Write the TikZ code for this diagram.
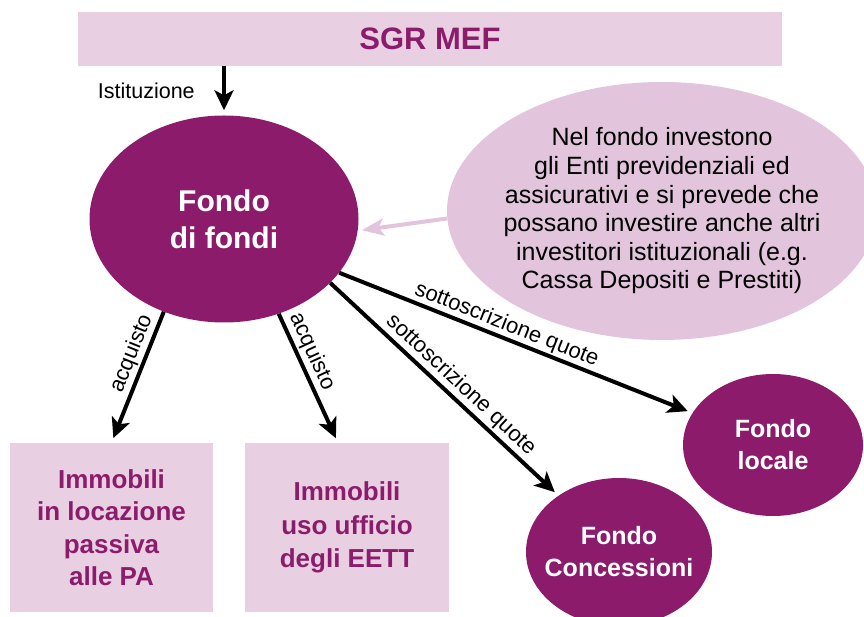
\documentclass[tikz,border=0pt]{standalone}
\usepackage{fontspec}
\setmainfont{Liberation Sans}
\usetikzlibrary{arrows.meta,shapes.geometric}
\definecolor{fondoviola}{HTML}{8C1B6B}
\definecolor{fondorosa}{HTML}{E8D0E2}
\definecolor{fondolilla}{HTML}{E2C5DC}
\tikzset{
  fondo/.style={ellipse, fill=fondoviola, text=white, inner sep=0pt, align=center},
  riquadro/.style={rectangle, fill=fondorosa, text=fondoviola, inner sep=0pt, align=center},
  freccia/.style={line width=4pt, -{Stealth[length=20pt,width=19pt,inset=5pt]}, shorten >=5pt},
  etichetta/.style={font=\fontsize{22}{26}\selectfont, sloped, above, inner sep=2pt}
}

\begin{document}
\begin{tikzpicture}[x=1pt, y=-1pt]
			%%%%% START %%%%%
			\useasboundingbox (0, 0) rectangle (864, 617);
			
			\node[riquadro, minimum width=704, minimum height=54, font=\fontsize{31}{36}\selectfont\bfseries] (sgr) at (430, 39) {SGR MEF};
			
			\node[ellipse, fill=fondolilla, minimum width=430, minimum height=258, inner xsep=-12pt, inner ysep=0pt, align=center, font=\fontsize{25}{28.6}\selectfont] (info) at (662, 211) {Nel fondo investono\\gli Enti previdenziali ed\\assicurativi e si prevede che\\possano investire anche altri\\investitori istituzionali (e.g.\\Cassa Depositi e Prestiti)};
			
			\node[fondo, minimum width=269, minimum height=207, font=\fontsize{30}{37}\selectfont\bfseries] (fdf) at (224, 219) {Fondo\\di fondi};
			
			\node[riquadro, minimum width=203, minimum height=169, font=\fontsize{26}{32.5}\selectfont\bfseries] (pa) at (111.5, 527.5) {Immobili\\in locazione\\passiva\\alle PA};
			\node[riquadro, minimum width=204, minimum height=169, font=\fontsize{26}{33.5}\selectfont\bfseries] (eett) at (347, 527.5) {Immobili\\uso ufficio\\degli EETT};
			
			\node[fondo, minimum width=186, minimum height=148, inner xsep=-14pt, font=\fontsize{25}{32}\selectfont\bfseries] (conc) at (619, 552) {Fondo\\Concessioni};
			\node[fondo, minimum width=180, minimum height=142, font=\fontsize{25}{32}\selectfont\bfseries] (loc) at (773, 445) {Fondo\\locale};
			
			\draw[freccia] (sgr.south -| fdf.north) -- (fdf.north) node[midway, left=24pt, font=\fontsize{21.5}{24}\selectfont] {Istituzione};
			
			\draw[line width=4pt, fondolilla, -{Stealth[length=22pt,width=17pt,inset=5pt]}, shorten >=4pt] (info.182) -- (fdf.-5);
			
			\draw[freccia] (fdf.237) -- (pa.north) node[etichetta, pos=0.36] {acquisto};
			\draw[freccia] (fdf.-60) -- ([xshift=-9pt]eett.north) node[etichetta, pos=0.34] {acquisto};
			\draw[freccia] (fdf.-31) -- (conc) node[etichetta, pos=0.53] {sottoscrizione quote};
			\draw[freccia] (fdf.-25) -- (loc) node[etichetta, pos=0.46, inner sep=1pt] {sottoscrizione quote};
			
			%%%%% END %%%%%
\end{tikzpicture}
\end{document}
